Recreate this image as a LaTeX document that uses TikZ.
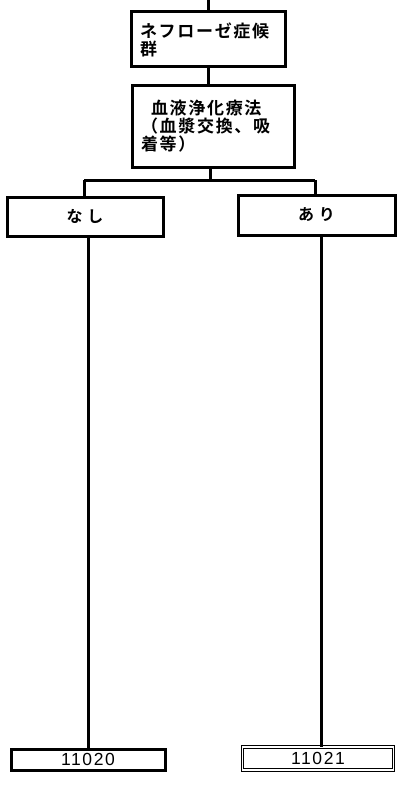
\documentclass[tikz,border=0pt]{standalone}
\usepackage{fontspec}
\newfontfamily\jp[LetterSpace=10]{Noto Sans CJK JP Bold}
\newfontfamily\jpw[LetterSpace=30]{Noto Sans CJK JP Bold}
\newfontfamily\numf[LetterSpace=9]{Liberation Sans}
\begin{document}
\begin{tikzpicture}[x=1pt,y=-1pt,
  box/.style={draw,line width=3pt,rectangle,inner sep=0pt,font=\jp\fontsize{17}{18}\selectfont},
  wbox/.style={box,font=\jpw\fontsize{16}{17}\selectfont},
  leaf/.style={draw,line width=3pt,rectangle,inner sep=0pt,font=\numf\fontsize{17.5}{18}\selectfont},
  leafd/.style={draw,double,line width=1pt,double distance=1.6pt,rectangle,inner sep=0pt,font=\numf\fontsize{17.5}{18}\selectfont},
  conn/.style={line width=3pt}]
\useasboundingbox (0,0) rectangle (398,789);
\node[box,minimum width=154pt,minimum height=55pt,align=left,text width=136pt] (box1) at (208,39.5) {ネフローゼ症候\\群};
\node[box,minimum width=162pt,minimum height=81pt,align=left,text width=144pt] (box2) at (213,126.5) {\hspace*{10pt}血液浄化療法\\（血漿交換、吸\\着等）};
\node[wbox,minimum width=156pt,minimum height=39pt] (nashi) at (85,216.5) {なし};
\node[wbox,minimum width=157pt,minimum height=40pt] (ari) at (316.5,215) {あり};
\node[leaf,minimum width=154pt,minimum height=21pt] (b1) at (88,759.5) {11020};
\node[leafd,minimum width=151pt,minimum height=23pt] (b2) at (318,758.5) {11021};
\coordinate (top) at (208,0);
\coordinate (hl) at (84,180);
\coordinate (hr) at (315,180);
\draw[conn] (top) -- (box1.north -| top);
\draw[conn] (box1.south -| top) -- (box2.north -| top);
\draw[conn] (box2.south -| 210,0) -- (hl -| 210,0);
\draw[conn] (hl) -- (hr);
\draw[conn] (hl) -- (hl |- nashi.north);
\draw[conn] (hr) -- (hr |- ari.north);
\draw[conn] (b1.north |- nashi.south) -- (b1.north);
\draw[conn] (321,0 |- ari.south) -- (321,0 |- b2.north);
\end{tikzpicture}
\end{document}
